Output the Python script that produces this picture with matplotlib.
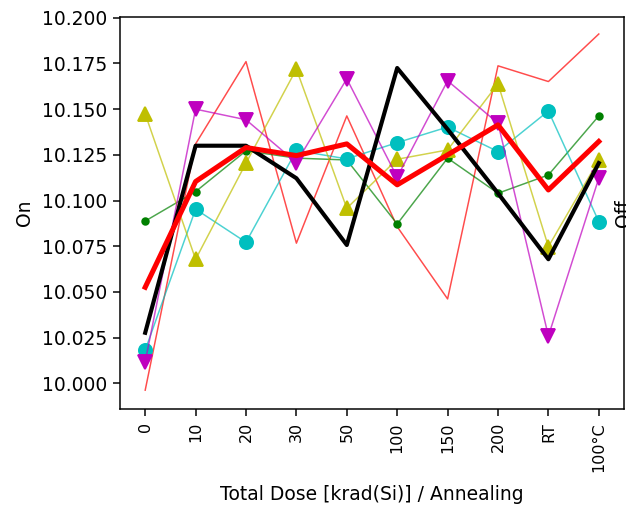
import matplotlib
matplotlib.use("Agg")
import matplotlib.pyplot as plt
import numpy as np

categories = ["0", "10", "20", "30", "50", "100", "150", "200", "RT", "100°C"]

thin_red = [9.9963, 10.131, 10.176, 10.0767, 10.1463, 10.0857, 10.0462, 10.1737, 10.1651, 10.1911]
green = [10.0888, 10.1049, 10.1272, 10.1232, 10.1222, 10.0872, 10.1232, 10.104, 10.114, 10.1463]
cyan = [10.0182, 10.0953, 10.0772, 10.1274, 10.1228, 10.1317, 10.1402, 10.1268, 10.149, 10.0885]
yellow = [10.1474, 10.0679, 10.1205, 10.1719, 10.0958, 10.1226, 10.1277, 10.1639, 10.0748, 10.1222]
magenta = [10.0118, 10.150, 10.1442, 10.1208, 10.1666, 10.1128, 10.1655, 10.1423, 10.0259, 10.1122]
black = [10.0277, 10.130, 10.130, 10.1122, 10.0757, 10.1725, 10.139, 10.104, 10.0679, 10.1205]
red_thick = [10.0526, 10.1104, 10.129, 10.1246, 10.131, 10.1086, 10.125, 10.1414, 10.1058, 10.1323]

DPI = 135
W, H = 626, 506
fig = plt.figure(figsize=(W / DPI, H / DPI), dpi=DPI)
ax = fig.add_axes([120 / W, 1 - 409 / H, 504 / W, 392 / H])
x = np.arange(len(categories))

def series(vals, color, marker=None, ms=0, lw=0.8):
    ax.plot(x, vals, color=color, lw=lw, alpha=0.7)
    if marker:
        ax.plot(x, vals, ls='none', marker=marker, ms=ms, color=color, mec=color)

series(thin_red, 'red')
series(green, 'green', 'o', 3.5)
series(cyan, 'c', 'o', 7)
series(yellow, 'y', '^', 7.5)
series(magenta, 'm', 'v', 7.5)
ax.plot(x, black, color='black', lw=2.2)
ax.plot(x, red_thick, color='red', lw=2.7)

ax.set_xlim(-0.5, 9.5)
ax.set_ylim(9.986, 10.2004)
ax.set_xticks(x)
ax.set_xticklabels(categories, rotation=90, fontsize=8.5)
yt = np.arange(10.0, 10.2001, 0.025)
ax.set_yticks(yt)
ax.set_yticklabels([f"{v:.3f}" for v in yt], fontsize=10)
ax.set_ylabel("On", fontsize=10)
ax.set_xlabel("Total Dose [krad(Si)] / Annealing", fontsize=10, labelpad=7)
fig.text(614 / W, 1 - 213 / H, "Off", rotation=90, fontsize=10, ha='left', va='center')

fig.savefig("out.png", dpi=DPI)
